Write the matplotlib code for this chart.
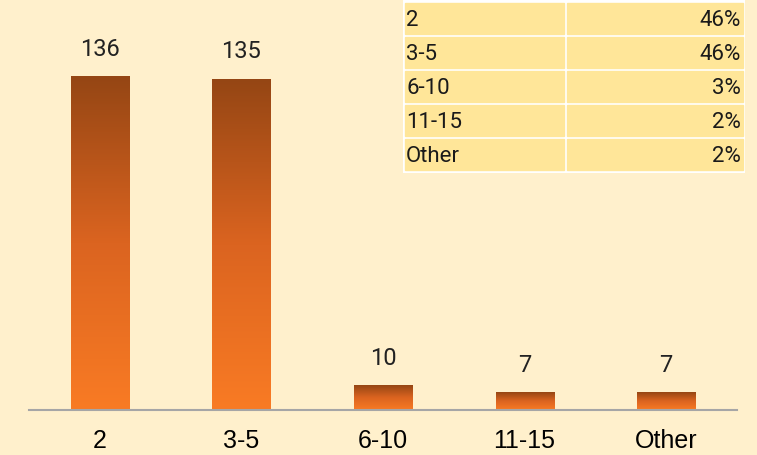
import numpy as np
import matplotlib.pyplot as plt
from matplotlib.colors import LinearSegmentedColormap
from matplotlib.patches import Rectangle

categories = ["2", "3-5", "6-10", "11-15", "Other"]
counts = [136, 135, 10, 7, 7]
shares = ["46%", "46%", "3%", "2%", "2%"]

BG = "#FFF0CC"
CELL = "#FFE699"
TXT = ["Roboto", "DejaVu Sans"]
grad = LinearSegmentedColormap.from_list("bar", ["#F97B24", "#DB6420", "#954614"])

fig = plt.figure(figsize=(7.57, 4.55), dpi=100, facecolor=BG)
ax = fig.add_axes([29 / 757, 1 - 410 / 455, 708 / 757, 410 / 455])
ax.set_facecolor(BG)

x = np.arange(len(categories))
width = 0.41
gradient = np.linspace(0, 1, 256).reshape(-1, 1)
for xi, v in zip(x, counts):
    ax.imshow(gradient, cmap=grad, aspect="auto", origin="lower",
              extent=(xi - width / 2, xi + width / 2, 0, v), zorder=2)
    ax.text(xi, v + 6.5, str(v), ha="center", va="bottom", fontsize=17,
            family=TXT, color="#222222")

ax.set_xlim(-0.5, len(categories) - 0.5)
ax.set_ylim(0, 410 / 2.45)
for s in ["top", "right", "left"]:
    ax.spines[s].set_visible(False)
ax.spines["bottom"].set_color("#A6A6A6")
ax.spines["bottom"].set_linewidth(1.5)
ax.set_yticks([])
ax.set_xticks(x)
ax.set_xticklabels(categories, fontsize=18, family=["Liberation Sans", "DejaVu Sans"])
ax.tick_params(axis="x", length=0, pad=14)

# summary table in the top right corner
tab = fig.add_axes([403 / 757, 1 - 173 / 455, 342 / 757, 173 / 455])
tab.set_xlim(403, 745)
tab.set_ylim(173, 0)
tab.axis("off")
tab.add_patch(Rectangle((403, 0), 342, 173, color="white", zorder=0))
row_h = 34
for i, (c, s) in enumerate(zip(categories, shares)):
    y0 = 3 + i * row_h
    tab.add_patch(Rectangle((405, y0), 159, row_h - 3, color=CELL, zorder=1))
    tab.add_patch(Rectangle((567, y0), 176, row_h - 3, color=CELL, zorder=1))
    yc = y0 + (row_h - 3) / 2 + 2
    tab.text(406, yc, c, ha="left", va="center", fontsize=16,
             family=TXT, color="#1a1a1a")
    tab.text(741, yc, s, ha="right", va="center", fontsize=16,
             family=TXT, color="#1a1a1a")

fig.savefig("out.png", dpi=100, facecolor=BG)
